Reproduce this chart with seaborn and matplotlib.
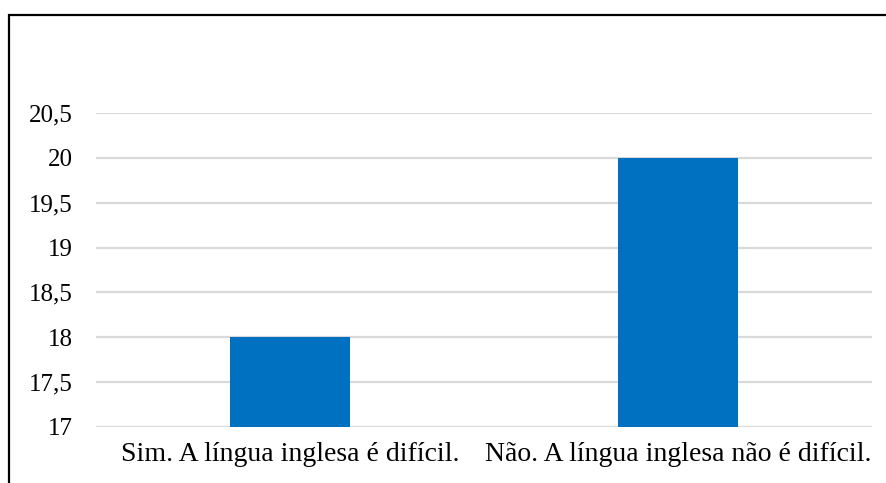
import matplotlib
matplotlib.use("Agg")
import matplotlib.pyplot as plt
import matplotlib.patches as mpatches
import seaborn as sns
import pandas as pd

# ── Data ──────────────────────────────────────────────────────────────────────
categories = ["Sim. A língua inglesa é difícil.", "Não. A língua inglesa não é difícil."]
values = [18, 20]
yticks = [17, 17.5, 18, 18.5, 19, 19.5, 20, 20.5]

BAR_CLR = "#0070C0"
GRID_CLR = "#D9D9D9"

sns.set_theme(style="white")
plt.rcParams["font.family"] = ["Liberation Serif", "DejaVu Serif"]

df = pd.DataFrame({"resposta": categories, "n": values})

W, H = 886, 483
fig = plt.figure(figsize=(W / 100, H / 100), dpi=100)
ax = fig.add_axes([96 / W, 1 - 427 / H, (872 - 96) / W, (427 - 113) / H])

sns.barplot(data=df, x="resposta", y="n", color=BAR_CLR, width=0.31,
            saturation=1, linewidth=0, ax=ax, zorder=3)

ax.set_ylim(17, 20.5)
ax.set_yticks(yticks)
ax.set_yticklabels([f"{t:g}".replace(".", ",") for t in yticks])
ax.set_xlim(-0.5, 1.5)
ax.yaxis.grid(True, color=GRID_CLR, linewidth=1.6, zorder=0)
ax.set_axisbelow(True)
for s in ax.spines.values():
    s.set_visible(False)
ax.tick_params(axis="y", length=0, pad=17, labelsize=18, labelcolor="black")
ax.tick_params(axis="x", length=0, pad=11, labelsize=20, labelcolor="black")
ax.set_xlabel("")
ax.set_ylabel("")

# outer frame (top and left visible, right/bottom run off the image)
frame = mpatches.Rectangle((9 / W, -0.1), 1.2, 1 - 15 / H + 0.1,
                           transform=fig.transFigure, fill=False,
                           edgecolor="black", linewidth=1.6, clip_on=False)
fig.patches.append(frame)

fig.savefig("out.png", dpi=100, facecolor="white")
